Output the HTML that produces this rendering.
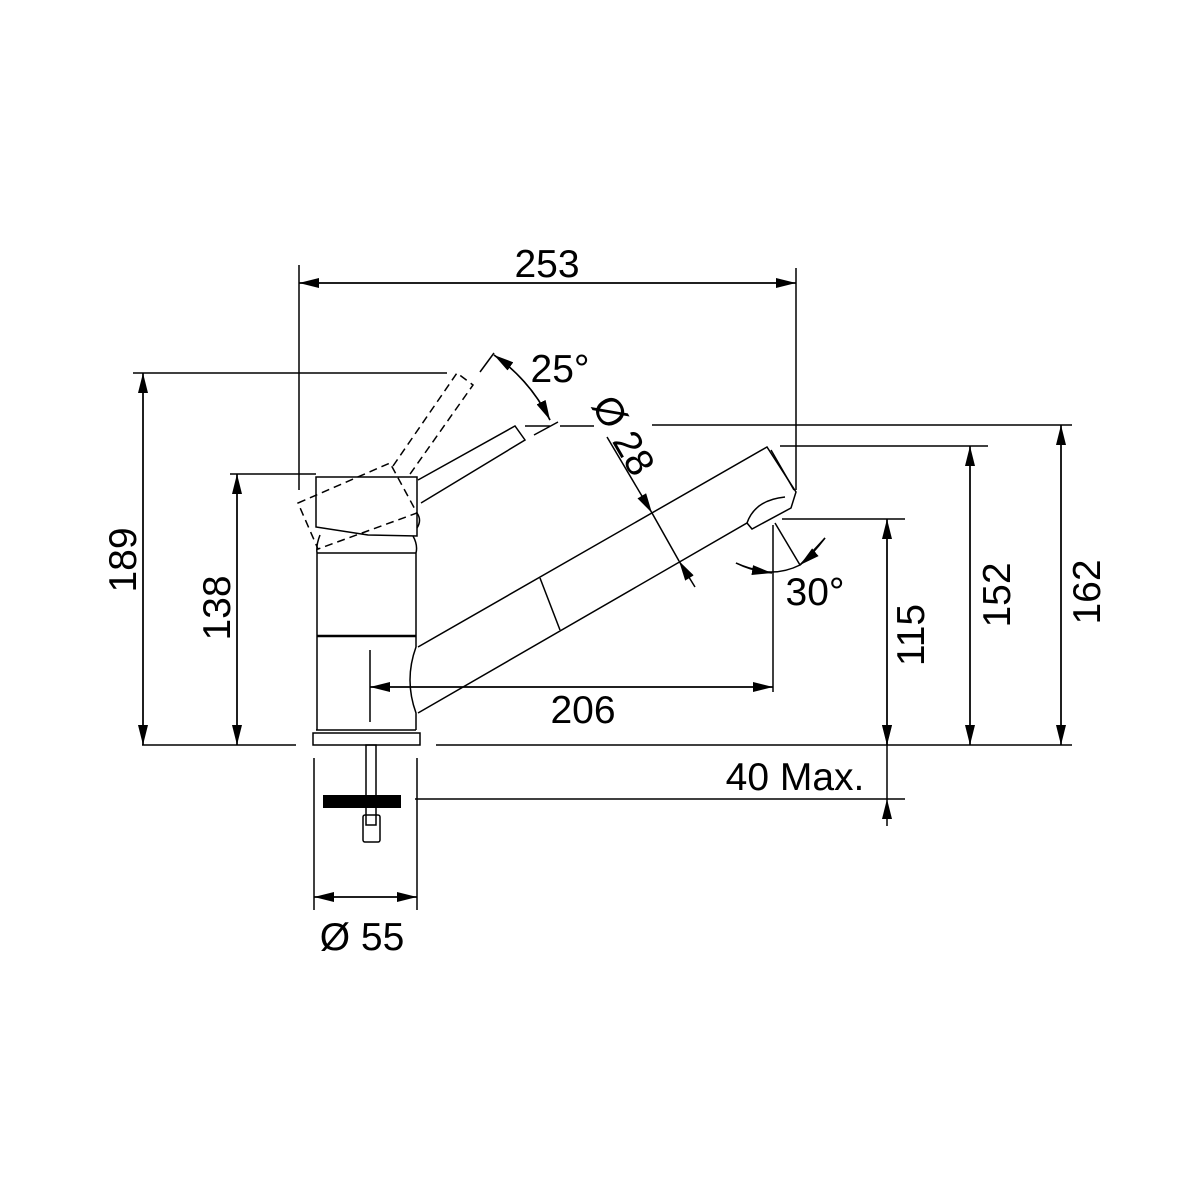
<!DOCTYPE html>
<html><head><meta charset="utf-8"><style>html,body{margin:0;padding:0;background:#fff}svg{display:block}</style></head>
<body>
<svg width="1200" height="1200" viewBox="0 0 1200 1200" xmlns="http://www.w3.org/2000/svg">
<defs>
<marker id="a" viewBox="0 0 20 10" refX="20" refY="5" markerWidth="20" markerHeight="10" markerUnits="userSpaceOnUse" orient="auto"><path d="M0,0 L20,5 L0,10 z" fill="#000"/></marker>
</defs>
<g fill="none" stroke="#000" stroke-width="1.5">
<line x1="299" y1="265" x2="299" y2="490"/>
<line x1="796" y1="268" x2="796" y2="490"/>
<line x1="133" y1="373" x2="447" y2="373"/>
<line x1="230" y1="474" x2="316" y2="474"/>
<line x1="142" y1="745" x2="296" y2="745"/>
<line x1="436" y1="745" x2="1072" y2="745"/>
<line x1="782" y1="519" x2="905" y2="519"/>
<line x1="780" y1="446" x2="988" y2="446"/>
<line x1="652" y1="425" x2="1072" y2="425"/>
<line x1="525" y1="426" x2="550" y2="426"/>
<line x1="560" y1="426" x2="594" y2="426"/>
<line x1="415" y1="799" x2="905" y2="799"/>
<line x1="370" y1="650" x2="370" y2="722"/>
<line x1="773" y1="525" x2="773" y2="692"/>
<line x1="314" y1="758" x2="314" y2="910"/>
<line x1="417" y1="758" x2="417" y2="910"/>
<line x1="143" y1="373" x2="143" y2="745" marker-end="url(#a)"/>
<line x1="143" y1="745" x2="143" y2="373" marker-end="url(#a)"/>
<line x1="237" y1="474" x2="237" y2="745" marker-end="url(#a)"/>
<line x1="237" y1="745" x2="237" y2="474" marker-end="url(#a)"/>
<line x1="887" y1="519" x2="887" y2="745" marker-end="url(#a)"/>
<line x1="887" y1="745" x2="887" y2="519" marker-end="url(#a)"/>
<line x1="970" y1="446" x2="970" y2="745" marker-end="url(#a)"/>
<line x1="970" y1="745" x2="970" y2="446" marker-end="url(#a)"/>
<line x1="1061" y1="425" x2="1061" y2="745" marker-end="url(#a)"/>
<line x1="1061" y1="745" x2="1061" y2="425" marker-end="url(#a)"/>
<line x1="299" y1="283" x2="796" y2="283" marker-end="url(#a)"/>
<line x1="796" y1="283" x2="299" y2="283" marker-end="url(#a)"/>
<line x1="887" y1="725" x2="887" y2="745" marker-end="url(#a)"/>
<line x1="887" y1="826" x2="887" y2="799" marker-end="url(#a)"/>
<line x1="887" y1="745" x2="887" y2="799"/>
<line x1="773" y1="687" x2="370" y2="687" marker-end="url(#a)"/>
<line x1="370" y1="687" x2="773" y2="687" marker-end="url(#a)"/>
<line x1="314" y1="897" x2="417" y2="897" marker-end="url(#a)"/>
<line x1="417" y1="897" x2="314" y2="897" marker-end="url(#a)"/>
<line x1="607" y1="437" x2="652" y2="513" marker-end="url(#a)"/>
<line x1="695" y1="587" x2="679" y2="561" marker-end="url(#a)"/>
<line x1="652" y1="513" x2="679" y2="561"/>
<line x1="480" y1="372" x2="494" y2="353"/>
<line x1="534" y1="435" x2="558" y2="422"/>
<path d="M494,355 Q530,380 550,420" marker-end="url(#a)"/>
<path d="M550,420 Q530,380 494,355" marker-end="url(#a)"/>
<line x1="775" y1="523" x2="800" y2="565"/>
<path d="M736,563 Q770,580 800,565 L825,538"/>
<path d="M736,563 Q752,570 772,573" marker-end="url(#a)"/>
<path d="M825,538 Q812,555 800,565" marker-end="url(#a)"/>
<path d="M316,477 L417,477 L417,536 L368,535 L316,527 Z"/>
<path d="M320,535 Q316,545 317,553 L317,730"/>
<path d="M413,536 Q418,545 416,553 L416,647 Q404,680 416,713 L416,730"/>
<line x1="317" y1="553" x2="416" y2="553"/>
<line x1="317" y1="636" x2="416" y2="636" stroke-width="2.5"/>
<line x1="316" y1="730" x2="416" y2="730"/>
<path d="M313,733 L420,733 L420,745 L313,745 Z"/>
<path d="M418,480 L515,426 L525,440 L421,503"/>
<path d="M417,513 Q422,520 417,528"/>
<g stroke-dasharray="8,5">
<path d="M298,503 L390,463 L417,513 L318,549 Z"/>
<path d="M393,466 L457,373 L473,385 L408,477"/>
</g>
<path d="M418,647 L767,447 L796,492 L791,508 L752,529 L747,523 L418,713"/>
<path d="M771,450 L794,490"/>
<path d="M747,523 Q755,500 785,497"/>
<line x1="540" y1="578" x2="560" y2="630"/>
<rect x="366" y="745" width="10" height="80"/>
<rect x="363" y="815" width="17" height="27" rx="2"/>
</g>
<rect x="323" y="795" width="78" height="13" fill="#000"/>
<g font-family="'Liberation Sans',sans-serif" font-size="39" fill="#000" text-anchor="middle">
<text x="547" y="277">253</text>
<text x="583" y="723">206</text>
<text x="795" y="790">40 Max.</text>
<text x="362" y="950">Ø 55</text>
<text x="560" y="382">25°</text>
<text x="815" y="605">30°</text>
<text transform="translate(136,560) rotate(-90)">189</text>
<text transform="translate(230,608) rotate(-90)">138</text>
<text transform="translate(924,635) rotate(-90)">115</text>
<text transform="translate(1010,595) rotate(-90)">152</text>
<text transform="translate(1100,592) rotate(-90)">162</text>
<text transform="translate(612,442) rotate(60)">Ø 28</text>
</g>
</svg>
</body></html>
